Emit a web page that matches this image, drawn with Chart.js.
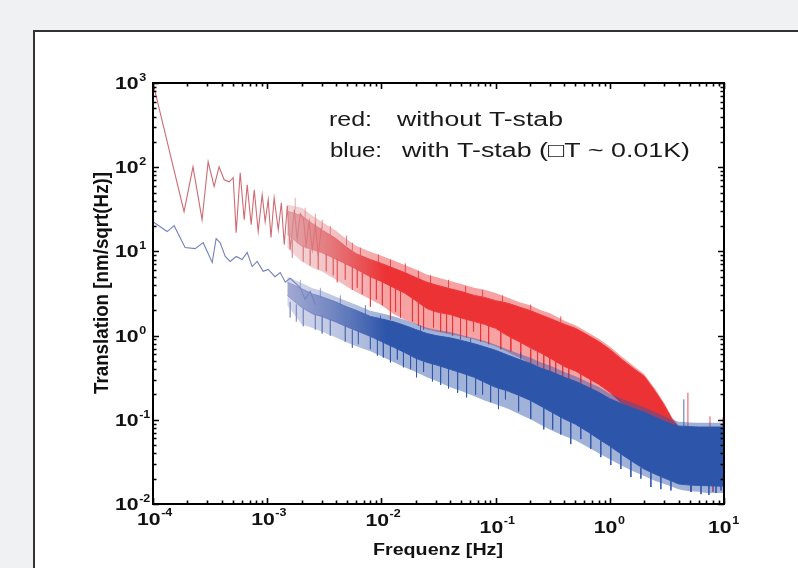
<!DOCTYPE html>
<html><head><meta charset="utf-8">
<script src="https://cdn.jsdelivr.net/npm/chart.js@4.4.1/dist/chart.umd.min.js"></script>
<style>
html,body{margin:0;padding:0;background:#f0f1f3;overflow:hidden;width:798px;height:568px;}
#panel{position:absolute;left:33px;top:30px;width:820px;height:600px;background:#fff;border:2px solid #333;}
#c{position:absolute;left:0;top:0;}
</style></head><body>
<div id="panel"></div>
<canvas id="c" width="798" height="568"></canvas>
<script>
// ---------- data ----------
const xTickValues = [1e-4, 1e-3, 1e-2, 1e-1, 1, 10];
const xTickExp = ['-4', '-3', '-2', '-1', '0', '1'];
const yTickValues = [0.01, 0.1, 1, 10, 100, 1000];
const yTickExp = ['-2', '-1', '0', '1', '2', '3'];

// low-frequency single traces
const redTraceF = [1.0e-4, 1.87e-4, 2.24e-4, 2.69e-4, 3.04e-4, 3.43e-4, 3.79e-4, 4.20e-4, 4.65e-4, 5.04e-4, 5.35e-4, 5.80e-4, 6.29e-4, 6.68e-4, 7.24e-4, 7.70e-4, 8.34e-4, 9.04e-4, 9.60e-4, 1.02e-3, 1.08e-3, 1.15e-3, 1.25e-3, 1.33e-3, 1.41e-3, 1.50e-3, 1.59e-3, 1.73e-3, 1.83e-3, 1.95e-3, 2.07e-3, 2.19e-3, 2.33e-3, 2.48e-3, 2.64e-3, 2.80e-3, 2.98e-3];
const redTraceV = [1000, 29.6, 101, 23.8, 116, 59, 101, 71, 67, 75, 16.7, 86, 23.8, 61.8, 20.8, 54, 17.2, 47.1, 22.5, 41.1, 14.6, 43.4, 18.1, 37.8, 12.0, 34.9, 10.5, 31.3, 13.8, 28.1, 25.1, 12.0, 22.5, 10.5, 20.8, 9.2, 19.1];
const blueTraceF = [1.0e-4, 1.33e-4, 1.53e-4, 1.91e-4, 2.34e-4, 2.75e-4, 3.30e-4, 3.57e-4, 3.87e-4, 4.29e-4, 4.74e-4, 5.35e-4, 6.03e-4, 6.68e-4, 7.39e-4, 8.17e-4, 9.22e-4, 1.02e-3, 1.17e-3, 1.30e-3, 1.44e-3, 1.59e-3, 1.95e-3, 2.15e-3, 2.38e-3, 2.64e-3];
const blueTraceV = [22.5, 17.2, 20.2, 11.1, 10.8, 12.7, 7.4, 14.2, 12.7, 8.7, 7.6, 8.7, 8.0, 9.7, 6.6, 7.6, 5.8, 6.1, 5.0, 5.6, 4.3, 4.8, 3.7, 2.7, 3.34, 2.34];

// dense noise region: envelopes of each spectrum (core band and outer fringe of spikes)
const bandF = [0.0015, 0.002, 0.0025, 0.003, 0.004, 0.005, 0.006, 0.008, 0.01, 0.013, 0.016, 0.02, 0.025, 0.03, 0.04, 0.05, 0.065, 0.08, 0.1, 0.13, 0.16, 0.2, 0.25, 0.3, 0.4, 0.5, 0.65, 0.8, 1, 1.3, 1.6, 2, 2.5, 3, 3.5, 4, 4.5, 5, 6, 7, 8, 9, 10];
const redTop = [30, 26.6, 21.3, 18.1, 14.2, 11.1, 9.4, 8.0, 7.2, 6.25, 5.6, 4.9, 4.3, 4.0, 3.6, 3.34, 3.0, 2.84, 2.6, 2.41, 2.19, 1.99, 1.76, 1.6, 1.36, 1.22, 1.0, 0.85, 0.686, 0.51, 0.41, 0.329, 0.218, 0.149, 0.102, 0.082, 0.075, 0.074, 0.073, 0.073, 0.073, 0.073, 0.073];
const redBottom = [16, 11.6, 10.5, 9.7, 8.1, 7.0, 6.2, 5.0, 4.4, 3.67, 3.2, 2.6, 2.1, 1.92, 1.78, 1.62, 1.47, 1.36, 1.22, 0.98, 0.85, 0.72, 0.62, 0.54, 0.43, 0.38, 0.31, 0.264, 0.212, 0.153, 0.126, 0.102, 0.077, 0.059, 0.045, 0.034, 0.024, 0.020, 0.018, 0.017, 0.017, 0.017, 0.017];
const redTopFringe = [36, 33, 26.5, 22.5, 17.6, 13.8, 11.7, 9.9, 8.9, 7.75, 6.9, 6.1, 5.3, 4.95, 4.45, 4.1, 3.7, 3.5, 3.2, 2.8, 2.5, 2.3, 2.0, 1.84, 1.5, 1.33, 1.08, 0.92, 0.74, 0.55, 0.44, 0.35, 0.232, 0.158, 0.108, 0.086, 0.079, 0.078, 0.077, 0.077, 0.077, 0.077, 0.077];
const redBottomFringe = [11, 7.6, 6.4, 5.8, 4.6, 3.8, 3.3, 2.7, 2.3, 1.78, 1.55, 1.36, 1.18, 1.12, 1.03, 0.98, 0.90, 0.83, 0.745, 0.63, 0.55, 0.47, 0.39, 0.34, 0.29, 0.26, 0.22, 0.195, 0.166, 0.12, 0.10, 0.08, 0.06, 0.047, 0.036, 0.027, 0.02, 0.017, 0.017, 0.017, 0.017, 0.017, 0.017];
const blueTop = [4.3, 3.62, 3.12, 2.9, 2.5, 2.19, 2.0, 1.69, 1.58, 1.45, 1.32, 1.18, 1.06, 1.0, 0.94, 0.877, 0.80, 0.735, 0.668, 0.582, 0.522, 0.469, 0.409, 0.377, 0.32, 0.286, 0.243, 0.212, 0.178, 0.153, 0.137, 0.123, 0.107, 0.096, 0.0887, 0.084, 0.084, 0.083, 0.082, 0.082, 0.082, 0.082, 0.082];
const blueBottom = [3.0, 2.16, 1.81, 1.69, 1.45, 1.27, 1.15, 0.98, 0.85, 0.72, 0.63, 0.537, 0.481, 0.45, 0.398, 0.361, 0.32, 0.279, 0.243, 0.218, 0.195, 0.171, 0.145, 0.126, 0.102, 0.0887, 0.0713, 0.059, 0.0487, 0.038, 0.0315, 0.026, 0.0226, 0.0203, 0.0187, 0.0173, 0.0170, 0.0168, 0.0166, 0.0165, 0.0164, 0.0163, 0.0163];
const blueTopFringe = [5.0, 4.2, 3.65, 3.4, 2.9, 2.55, 2.33, 1.97, 1.84, 1.69, 1.54, 1.38, 1.24, 1.17, 1.1, 1.02, 0.93, 0.86, 0.78, 0.68, 0.61, 0.55, 0.48, 0.44, 0.37, 0.33, 0.28, 0.245, 0.205, 0.176, 0.158, 0.141, 0.123, 0.11, 0.101, 0.095, 0.094, 0.093, 0.092, 0.092, 0.092, 0.092, 0.092];
const blueBottomFringe = [2.3, 1.36, 1.23, 1.12, 0.95, 0.83, 0.745, 0.65, 0.567, 0.48, 0.42, 0.37, 0.32, 0.29, 0.243, 0.22, 0.19, 0.17, 0.153, 0.134, 0.117, 0.102, 0.087, 0.076, 0.064, 0.057, 0.047, 0.040, 0.034, 0.028, 0.0245, 0.0215, 0.0187, 0.0173, 0.016, 0.015, 0.0145, 0.0142, 0.014, 0.0135, 0.0135, 0.0135, 0.0135];

// single spikes sticking out of the bands (frequency, value inside band, tip value)
const redSpikeF = [1.66e-3, 2.07e-3, 2.15e-3, 2.64e-3, 2.80e-3, 3.29e-3, 3.57e-3, 4.11e-3, 4.83e-3, 4.95e-3, 5.57e-3, 6.55e-3, 6.81e-3, 8.01e-3, 9.42e-3, 1.02e-2, 1.20e-2, 1.47e-2, 1.62e-2, 1.87e-2, 2.34e-2, 2.69e-2, 3.30e-2, 4.20e-2, 5.46e-2, 5.57e-2, 7.39e-2, 0.111, 0.115, 0.166, 0.203, 0.264, 0.336, 0.437, 0.681, 4.83, 5.14, 7.54, 8.01, 9.80,
  2.38e-3, 3.79e-3, 6.15e-3, 9.04e-3, 1.33e-2, 2.11e-2, 2.86e-2, 3.72e-2, 4.93e-2, 6.41e-2, 8.69e-2, 0.136, 0.233, 0.298, 0.387, 0.557,
  1.76e-3, 3.03e-3, 5.57e-3, 1.20e-2, 2.11e-2, 3.87e-2, 7.69e-2, 0.203, 0.372];
const redSpikeBase = [13.8, 11.7, 23.8, 20.2, 10.5, 9.4, 15.4, 8.2, 7.2, 11.7, 6.6, 8.9, 5.8, 5.2, 7.2, 4.5, 3.9, 3.5, 5.5, 2.8, 2.2, 4.0, 1.88, 1.78, 3.2, 1.60, 1.43, 1.12, 2.5, 0.83, 0.70, 0.62, 0.52, 0.42, 0.32, 0.077, 0.020, 0.077, 0.020, 0.077,
  10.5, 8.4, 6.4, 4.8, 3.7, 2.5, 2.28, 2.1, 1.93, 1.73, 1.55, 1.15, 0.72, 0.65, 0.52, 0.42,
  31.3, 18.6, 10.2, 6.4, 4.8, 3.7, 2.9, 2.0, 1.43];
const redSpikeTip = [8.4, 7.6, 33.0, 28.0, 6.1, 5.8, 20.2, 4.3, 4.6, 15.4, 3.5, 11.1, 3.1, 2.2, 9.2, 2.3, 1.55, 1.64, 7.2, 1.47, 1.18, 5.2, 1.12, 1.0, 3.9, 0.95, 0.85, 0.69, 3.0, 0.55, 0.40, 0.33, 0.30, 0.26, 0.22, 0.21, 0.014, 0.110, 0.014, 0.107,
  6.8, 5.2, 3.7, 2.7, 1.93, 1.32, 1.25, 1.09, 0.90, 1.12, 0.79, 0.65, 0.443, 0.356, 0.311, 0.26,
  43.4, 23.8, 12.7, 8.0, 5.9, 4.6, 3.5, 2.34, 1.69];
const blueSpikeF = [1.59e-3, 1.95e-3, 2.07e-3, 2.64e-3, 2.92e-3, 3.57e-3, 4.37e-3, 4.83e-3, 6.29e-3, 7.24e-3, 8.01e-3, 1.04e-2, 1.20e-2, 1.38e-2, 1.80e-2, 2.34e-2, 3.30e-2, 4.65e-2, 6.68e-2, 9.04e-2, 0.122, 0.203, 0.264, 0.372, 0.557, 0.834, 1.25, 1.87, 2.80, 4.45, 5.14, 6.29, 8.51,
  1.80e-3, 3.03e-3, 5.57e-3, 9.23e-3, 1.56e-2, 2.03e-2, 2.80e-2, 3.87e-2, 5.57e-2, 7.69e-2, 0.106, 0.159, 0.316, 0.455, 0.681, 1.02, 1.53, 2.29, 3.43, 7.38, 9.42,
  9.8e-3, 2.20e-2, 6.04e-2, 0.166];
const blueSpikeBase = [2.5, 3.5, 2.1, 1.78, 2.8, 1.55, 2.3, 1.32, 1.15, 1.78, 1.0, 0.85, 0.79, 0.70, 0.58, 0.49, 0.43, 0.38, 0.32, 0.26, 0.22, 0.166, 0.137, 0.114, 0.082, 0.057, 0.039, 0.027, 0.021, 0.082, 0.017, 0.017, 0.017,
  2.34, 1.73, 1.18, 0.95, 0.67, 0.567, 0.469, 0.41, 0.35, 0.295, 0.243, 0.195, 0.123, 0.096, 0.0713, 0.050, 0.034, 0.026, 0.020, 0.017, 0.017,
  1.47, 1.06, 0.76, 0.52];
const blueSpikeTip = [1.64, 4.6, 1.29, 1.18, 3.7, 1.0, 3.0, 0.85, 0.79, 2.3, 0.69, 0.55, 0.48, 0.52, 0.40, 0.37, 0.26, 0.21, 0.20, 0.162, 0.175, 0.102, 0.077, 0.067, 0.059, 0.036, 0.026, 0.020, 0.015, 0.175, 0.014, 0.0131, 0.0135,
  1.47, 1.06, 0.72, 0.58, 0.42, 0.32, 0.286, 0.236, 0.185, 0.20, 0.134, 0.126, 0.077, 0.0514, 0.045, 0.029, 0.0209, 0.0159, 0.0145, 0.0128, 0.0145,
  1.73, 1.32, 0.93, 0.63];

// ---------- styling ----------
const RED = [236, 50, 52], RED_LIGHT = [218, 140, 145], RED_TRACE = '#d06a73';
const BLUE = [45, 85, 170], BLUE_LIGHT = [135, 145, 198], BLUE_TRACE = '#7480bb';
const FADE_FROM = 1.6e-3, FADE_TO = 1.1e-2;
const FRINGE_ALPHA = 0.45;

function rgba(c, a) { return 'rgba(' + c[0] + ',' + c[1] + ',' + c[2] + ',' + a + ')'; }
function pts(fs, vs) { return fs.map((f, i) => ({x: f, y: vs[i]})); }
function spikePts(fs, base, tip) {
  const idx = fs.map((f, i) => i).sort((a, b) => fs[a] - fs[b]);
  const out = [];
  idx.forEach(i => { out.push({x: fs[i], y: base[i]}, {x: fs[i], y: tip[i]}, {x: fs[i], y: null}); });
  return out;
}
function grad(light, solid, alpha) {
  return function (c) {
    const chart = c.chart;
    if (!chart.chartArea) return rgba(solid, alpha);
    const xs = chart.scales.x;
    const g = chart.ctx.createLinearGradient(xs.getPixelForValue(FADE_FROM), 0, xs.getPixelForValue(FADE_TO), 0);
    g.addColorStop(0, rgba(light, alpha * 0.8)); g.addColorStop(1, rgba(solid, alpha));
    return g;
  };
}
const lineBase = {pointRadius: 0, borderWidth: 1, tension: 0, spanGaps: false};
function ds(extra) { return Object.assign({}, lineBase, extra); }

const datasets = [
  // blue (drawn on top of red)
  ds({label: 'blueTop', data: pts(bandF, blueTop), borderColor: grad(BLUE_LIGHT, BLUE, 1), fill: false, order: 0}),           // 0
  ds({label: 'blueBottom', data: pts(bandF, blueBottom), borderColor: grad(BLUE_LIGHT, BLUE, 1), backgroundColor: grad(BLUE_LIGHT, BLUE, 1), fill: 0, order: 0}), // 1
  ds({label: 'blueTopFringe', data: pts(bandF, blueTopFringe), borderWidth: 0, backgroundColor: grad(BLUE_LIGHT, BLUE, FRINGE_ALPHA), fill: 0, order: 0}), // 2
  ds({label: 'blueBottomFringe', data: pts(bandF, blueBottomFringe), borderWidth: 0, backgroundColor: grad(BLUE_LIGHT, BLUE, FRINGE_ALPHA), fill: 1, order: 0}), // 3
  ds({label: 'blueSpikes', data: spikePts(blueSpikeF, blueSpikeBase, blueSpikeTip), borderColor: grad(BLUE_LIGHT, BLUE, 0.85), borderWidth: 1, fill: false, order: 0}), // 4
  ds({label: 'blueTrace', data: pts(blueTraceF, blueTraceV), borderColor: BLUE_TRACE, borderWidth: 1.1, fill: false, order: 0}), // 5
  // red (drawn underneath)
  ds({label: 'redTop', data: pts(bandF, redTop), borderColor: grad(RED_LIGHT, RED, 1), fill: false, order: 1}),               // 6
  ds({label: 'redBottom', data: pts(bandF, redBottom), borderColor: grad(RED_LIGHT, RED, 1), backgroundColor: grad(RED_LIGHT, RED, 1), fill: 6, order: 1}), // 7
  ds({label: 'redTopFringe', data: pts(bandF, redTopFringe), borderWidth: 0, backgroundColor: grad(RED_LIGHT, RED, FRINGE_ALPHA), fill: 6, order: 1}), // 8
  ds({label: 'redBottomFringe', data: pts(bandF, redBottomFringe), borderWidth: 0, backgroundColor: grad(RED_LIGHT, RED, FRINGE_ALPHA), fill: 7, order: 1}), // 9
  ds({label: 'redSpikes', data: spikePts(redSpikeF, redSpikeBase, redSpikeTip), borderColor: grad(RED_LIGHT, RED, 0.85), borderWidth: 1, fill: false, order: 1}), // 10
  ds({label: 'redTrace', data: pts(redTraceF, redTraceV), borderColor: RED_TRACE, borderWidth: 1.1, fill: false, order: 1}) // 11
];

const FONT = '"Liberation Sans", Arial, Helvetica, sans-serif';
function stretchText(ctx, s, x, y, font, sx, sy) {
  ctx.save();
  ctx.font = font;
  ctx.translate(x, y);
  ctx.scale(sx, sy || 1);
  ctx.fillText(s, 0, 0);
  const w = ctx.measureText(s).width * sx;
  ctx.restore();
  return w;
}
function fitText(ctx, s, x, y, font, width, sy) {
  ctx.save();
  ctx.font = font;
  const w = ctx.measureText(s).width;
  ctx.translate(x, y);
  ctx.scale(width / w, sy || 1);
  ctx.fillText(s, 0, 0);
  ctx.restore();
}

const decor = {
  id: 'decor',
  afterDatasetsDraw(chart) {
    const {ctx, chartArea: a, scales: {x, y}} = chart;
    ctx.save();
    ctx.strokeStyle = '#000';
    ctx.lineWidth = 1.6;
    ctx.beginPath();
    for (let e = -4; e <= 1; e++) {
      for (let d = 1; d <= 9; d++) {
        const v = d * Math.pow(10, e);
        if (v < x.min * 0.999 || v > x.max * 1.001) continue;
        const px = Math.round(x.getPixelForValue(v)) + 0.5;
        const L = d === 1 ? 6 : 3.5;
        ctx.moveTo(px, a.bottom); ctx.lineTo(px, a.bottom - L);
        ctx.moveTo(px, a.top); ctx.lineTo(px, a.top + L);
      }
    }
    for (let e = -2; e <= 3; e++) {
      for (let d = 1; d <= 9; d++) {
        const v = d * Math.pow(10, e);
        if (v < y.min * 0.999 || v > y.max * 1.001) continue;
        const py = Math.round(y.getPixelForValue(v)) + 0.5;
        const L = d === 1 ? 6 : 3.5;
        ctx.moveTo(a.left, py); ctx.lineTo(a.left + L, py);
        ctx.moveTo(a.right, py); ctx.lineTo(a.right - L, py);
      }
    }
    ctx.stroke();
    ctx.lineWidth = 2;
    ctx.strokeRect(a.left, a.top, a.right - a.left, a.bottom - a.top);
    ctx.restore();
  },
  afterDraw(chart) {
    const {ctx, scales: {x, y}} = chart;
    ctx.save();
    ctx.fillStyle = '#111';
    ctx.textBaseline = 'alphabetic';
    ctx.textAlign = 'left';
    const SX = 1.25;
    yTickValues.forEach((v, i) => {
      const py = y.getPixelForValue(v);
      const w = stretchText(ctx, '10', 115, py + 6, 'bold 17px ' + FONT, SX);
      stretchText(ctx, yTickExp[i], 115 + w + 0.5, py - 2, 'bold 10px ' + FONT, SX);
    });
    const xBase = [525, 525, 526, 533, 533, 533];
    xTickValues.forEach((v, i) => {
      const px = x.getPixelForValue(v);
      const w = stretchText(ctx, '10', px - 16, xBase[i], 'bold 17px ' + FONT, SX);
      stretchText(ctx, xTickExp[i], px - 16 + w + 0.5, xBase[i] - 9, 'bold 10px ' + FONT, SX);
    });
    fitText(ctx, 'Frequenz [Hz]', 373, 555, 'bold 16px ' + FONT, 130);
    ctx.save();
    ctx.translate(108, 394);
    ctx.rotate(-Math.PI / 2);
    fitText(ctx, 'Translation [nm/sqrt(Hz)]', 0, 0, 'bold 16px ' + FONT, 222, 1.25);
    ctx.restore();
    ctx.fillStyle = '#1a1a1a';
    const REG = '20px ' + FONT;
    fitText(ctx, 'red:', 329, 126, REG, 43);
    fitText(ctx, 'without T-stab', 397, 126, REG, 166);
    fitText(ctx, 'blue:', 330, 157, REG, 52);
    fitText(ctx, 'with T-stab (\u25A1T ~ 0.01K)', 402, 157, REG, 288);
    ctx.restore();
  }
};

new Chart(document.getElementById('c'), {
  type: 'line',
  data: {datasets: datasets},
  options: {
    responsive: false,
    animation: false,
    devicePixelRatio: 1,
    layout: {padding: {left: 153, top: 83, right: 74, bottom: 64}},
    plugins: {legend: {display: false}, tooltip: {enabled: false}},
    scales: {
      x: {type: 'logarithmic', min: 1e-4, max: 10, display: false},
      y: {type: 'logarithmic', min: 0.01, max: 1000, display: false}
    }
  },
  plugins: [decor]
});
</script>
</body></html>
